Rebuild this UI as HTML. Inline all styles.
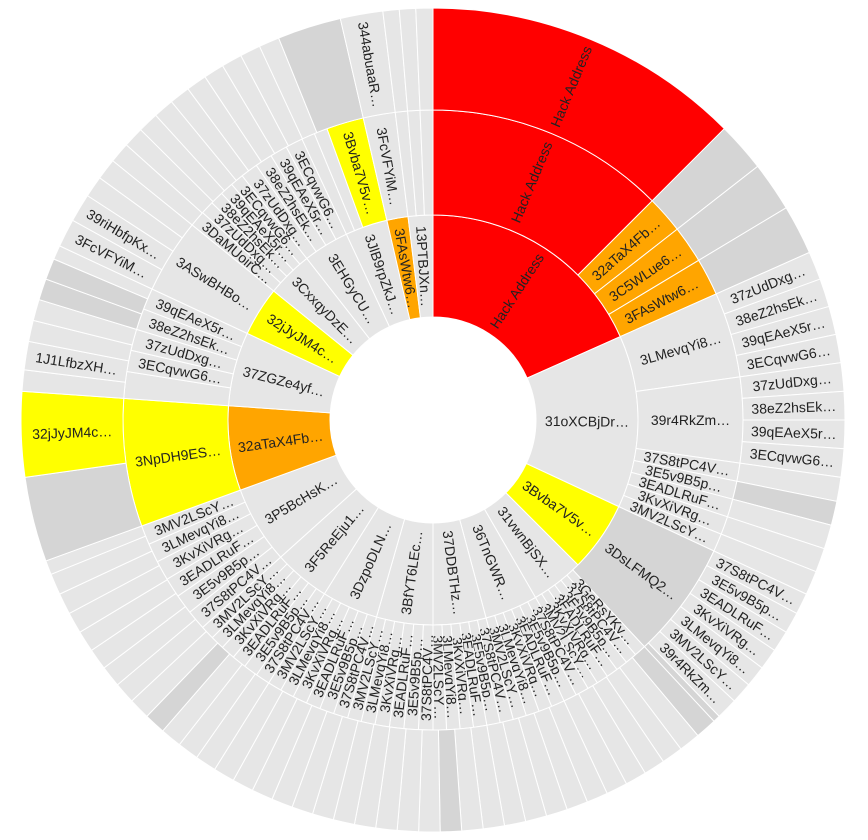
<!DOCTYPE html>
<html><head><meta charset="utf-8">
<style>
html,body{margin:0;padding:0;background:#fff;}
svg{display:block;}
text{font-family:"Liberation Sans",Arial,sans-serif;font-size:14px;fill:#222;}
</style></head>
<body>
<svg id="chart" width="868" height="840" viewBox="0 0 868 840" xmlns="http://www.w3.org/2000/svg"></svg>
<script>
// ring 1 (inner)
const ring1Labels = ["Hack Address","31oXCBjDr…","3Bvba7V5v…","31vwnBjSX…","36TnGWR…","37DDBTHz…","3BfYT6LEc…","3DzpoDLN…","3F5ReEju1…","3P5BcHsK…","32aTaX4Fb…","37ZGZe4yf…","32jJyJM4c…","3CxxqyDzE…","3EHGyCU…","3JlB9rpZkJ…","3FAsWtw6…","13PTBJXn…"];
const ring1Values = [66,49,20,15,15,15,16,16,16,22,24,21,14,13,13,12,6,7];
const ring1Colors = ["r","g","y","g","g","g","g","g","g","g","o","g","y","g","g","g","o","g"];

const S6 = ["37S8tPC4V…","3E5v9B5p…","3EADLRuF…","3KvXiVRg…","3LMevqYi8…","3MV2LScY…"];
const ring2Labels = ["Hack Address","32aTaX4Fb…","3C5WLue6…","3FAsWtw6…","3LMevqYi8…","39r4RkZm…",
 "37S8tPC4V…","3E5v9B5p…","3EADLRuF…","3KvXiVRg…","3MV2LScY…",
 "3DsLFMQ2…",
 "3GeRsYKy…","37S8tPC4V…","3E5v9B5p…","3EADLRuF…","3KvXiVRg…","3MV2LScY…",
 ...S6,...S6,...S6,...S6,...S6,...S6,
 "3NpDH9ES…",
 "","3ECqvwG6…","37zUdDxg…","38eZ2hsEk…","39qEAeX5r…",
 "3ASwBHBo…",
 "3DaMUoirC…","37zUdDxg…","38eZ2hsEk…","39qEAeX5r…","3ECqvwG6…",
 "37zUdDxg…","38eZ2hsEk…","39qEAeX5r…","3ECqvwG6…",
 "","","3Bvba7V5v…","3FcVFYiM…","","",""];
const ring2Values = [45,7,7,7,16,16,
 3.4,3.4,3.4,3.4,3.4,
 22,
 2.2,2.2,2.2,2.2,2.2,2,
 2.5,2.5,2.5,2.5,2.5,2.5,
 2.5,2.5,2.5,2.5,2.5,2.5,
 2.7,2.7,2.7,2.7,2.6,2.6,
 2.7,2.7,2.7,2.7,2.6,2.6,
 2.7,2.7,2.7,2.7,2.6,2.6,
 3.7,3.7,3.7,3.7,3.6,3.6,
 24,
 5,4,4,4,4,
 14,
 3,2.5,2.5,2.5,2.5,
 3.25,3.25,3.25,3.25,
 2.5,2.5,7,6,2.3,2.3,2.4];
const ring2Colors = ["r","o","o","o","g","g",
 "g","g","g","g","g","d",
 "g","g","g","g","g","g",
 "g","g","g","g","g","g","g","g","g","g","g","g",
 "g","g","g","g","g","g","g","g","g","g","g","g",
 "g","g","g","g","g","g","g","g","g","g","g","g",
 "y",
 "g","g","g","g","g",
 "g",
 "g","g","g","g","g",
 "g","g","g","g",
 "g","g","y","g","g","g","g"];

// ring 3 (outer), in groups
const r3aLabels = ["Hack Address","","",""];
const r3aValues = [45,7,7,7];
const r3aColors = ["r","d","d","d"];
const r3bLabels = ["37zUdDxg…","38eZ2hsEk…","39qEAeX5r…","3ECqvwG6…","37zUdDxg…","38eZ2hsEk…","39qEAeX5r…","3ECqvwG6…"];
const r3bValues = [4,4,4,4,4,4,4,4];
const r3bColors = ["g","g","g","g","g","g","g","g"];
const r3cLabels = ["","","","",""];
const r3cValues = [3.4,3.4,3.4,3.4,3.4];
const r3cColors = ["g","d","g","g","g"];
const r3dLabels = ["37S8tPC4V…","3E5v9B5p…","3EADLRuF…","3KvXiVRg…","3LMevqYi8…","3MV2LScY…","39r4RkZm…",""];
const r3dValues = [3,3,3,3,3,3,3,1];
const r3dColors = ["g","g","g","g","g","g","g","d"];
const r3eValues = [3,3,3,3,3,3,3,3,3,3,
 3,3,3,3,3,3,3,3,3,3,
 3,3,3,3,3,3,3,3,3,3,
 3,3,3,3,3,3,3,2];
const r3eColors = ["d","g","g","g","g","g","g","g","g","g",
 "g","g","g","d","g","g","g","g","g","g",
 "g","g","g","g","g","g","g","g","d","g",
 "g","g","g","g","g","g","g","g"];
const r3eLabels = r3eValues.map(()=> "");
const r3fLabels = ["","32jJyJM4c…"];
const r3fValues = [12,12];
const r3fColors = ["d","y"];
const r3gLabels = ["","1J1LfbzXH…","","","","",""];
const r3gValues = [3,4,3,3,3,3,2];
const r3gColors = ["g","g","g","g","d","d","g"];
const r3hLabels = ["3FcVFYiM…","39riHbfpKx…","",""];
const r3hValues = [4,4,3,3];
const r3hColors = ["g","g","g","g"];
const r3iValues = [2.9,2.9,2.9,2.9,2.9,2.9,2.9,2.9,2.9,2.9];
const r3iColors = ["g","g","g","g","g","g","g","g","g","g"];
const r3iLabels = r3iValues.map(()=> "");
const r3jLabels = ["","344abuaaR…","","",""];
const r3jValues = [9,6,2.3,2.3,2.4];
const r3jColors = ["d","g","g","g","g"];

const ring3Labels = [].concat(r3aLabels,r3bLabels,r3cLabels,r3dLabels,r3eLabels,r3fLabels,r3gLabels,r3hLabels,r3iLabels,r3jLabels);
const ring3Values = [].concat(r3aValues,r3bValues,r3cValues,r3dValues,r3eValues,r3fValues,r3gValues,r3hValues,r3iValues,r3jValues);
const ring3Colors = [].concat(r3aColors,r3bColors,r3cColors,r3dColors,r3eColors,r3fColors,r3gColors,r3hColors,r3iColors,r3jColors);

const palette = {r:"#ff0000",o:"#ffa500",y:"#ffff00",g:"#e6e6e6",d:"#d5d5d5"};
const cx = 433, cy = 420;
const radii = [103,205,310,412];
const svg = document.getElementById("chart");
const NS = "http://www.w3.org/2000/svg";

function pt(r,a){const t=a*Math.PI/180;return [cx+r*Math.sin(t), cy-r*Math.cos(t)];}
function arcPath(r0,r1,a0,a1){
  const large = (a1-a0)>180?1:0;
  const p0=pt(r1,a0),p1=pt(r1,a1),p2=pt(r0,a1),p3=pt(r0,a0);
  return `M${p0[0]},${p0[1]}A${r1},${r1} 0 ${large} 1 ${p1[0]},${p1[1]}L${p2[0]},${p2[1]}A${r0},${r0} 0 ${large} 0 ${p3[0]},${p3[1]}Z`;
}
function drawRing(idx, labels, values, colors){
  const g = document.createElementNS(NS,"g");
  
  
  svg.appendChild(g);
  const total = values.reduce((s,v)=>s+v,0);
  let acc = 0;
  const r0 = radii[idx], r1 = radii[idx+1];
  values.forEach((v,i)=>{
    const a0 = acc/total*360, a1 = (acc+v)/total*360;
    acc += v;
    const p = document.createElementNS(NS,"path");
    p.setAttribute("d", arcPath(r0,r1,a0,a1));
    p.setAttribute("fill", palette[colors[i]] || palette.g);
    p.setAttribute("stroke", "#fff");
    p.setAttribute("stroke-width", "1");
    
    
    g.appendChild(p);
    const lab = labels[i];
    if (lab) {
      const am = (a0+a1)/2, rm = (r0+r1)/2;
      const c = pt(rm, am);
      const rot = am < 180 ? am-90 : am+90;
      const t = document.createElementNS(NS,"text");
      t.setAttribute("x", c[0]); t.setAttribute("y", c[1]);
      t.setAttribute("text-anchor","middle");
      t.setAttribute("dominant-baseline","central");
      t.setAttribute("transform", `rotate(${rot} ${c[0]} ${c[1]})`);
      t.textContent = lab;
      
      
      g.appendChild(t);
    }
  });
}
drawRing(0, ring1Labels, ring1Values, ring1Colors);
drawRing(1, ring2Labels, ring2Values, ring2Colors);
drawRing(2, ring3Labels, ring3Values, ring3Colors);
</script>
</body></html>
